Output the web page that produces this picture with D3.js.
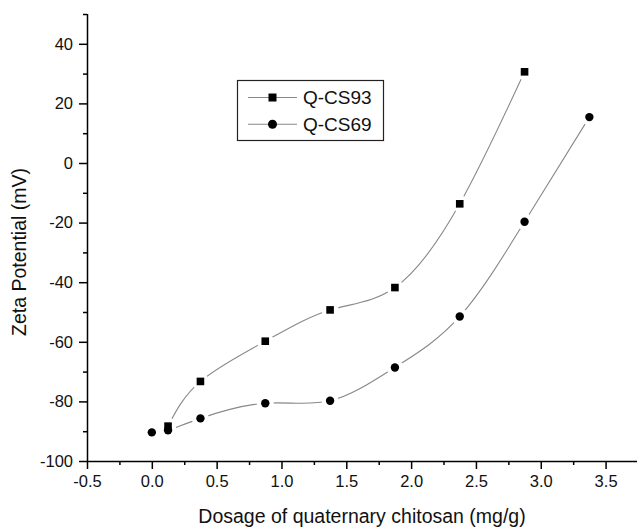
<!DOCTYPE html>
<html>
<head>
<meta charset="utf-8">
<script src="https://cdn.jsdelivr.net/npm/d3@7"></script>
<style>
  body { margin: 0; background: #fff; }
  svg { font-family: "Liberation Sans", Arial, sans-serif; }
</style>
</head>
<body>
<svg id="chart" width="637" height="528"></svg>
<script>
// data
const xs93 = [0.125, 0.375, 0.875, 1.375, 1.875, 2.375, 2.875]
const ys93 = [-88.3, -73.3, -59.8, -49.3, -41.8, -13.7, 30.6]
const xs69 = [0, 0.125, 0.375, 0.875, 1.375, 1.875, 2.375, 2.875, 3.375]
const ys69 = [-90.4, -89.7, -85.7, -80.6, -79.8, -68.6, -51.5, -19.7, 15.4]
const seriesNames = ["Q-CS93", "Q-CS69"]
const xTicks = [-0.5, 0, 0.5, 1, 1.5, 2, 2.5, 3, 3.5]
const yTicks = [-100, -80, -60, -40, -20, 0, 20, 40]

const svg = d3.select("#chart")
const margin = {top: 14, left: 87, right: -1, bottom: 67}
const width = 637, height = 528

const x = d3.scaleLinear().domain([-0.5, 3.75]).range([margin.left, width - margin.right])
const y = d3.scaleLinear().domain([-100, 50]).range([height - margin.bottom, margin.top])

// minor ticks first, then major ticks + labels
const xMinor = d3.range(-0.25, 3.75, 0.5)
const yMinor = d3.range(-90, 51, 20)

svg.append("g")
    .attr("transform", `translate(0,${y(-100)})`)
    .call(d3.axisBottom(x).tickValues(xMinor).tickSize(4).tickFormat(""))
    .call(g => g.select(".domain").remove())
svg.append("g")
    .attr("transform", `translate(${x(-0.5)},0)`)
    .call(d3.axisLeft(y).tickValues(yMinor).tickSize(4).tickFormat(""))
    .call(g => g.select(".domain").remove())

// plain hyphen for negatives, like the original
const xAxis = svg.append("g")
    .attr("transform", `translate(0,${y(-100)})`)
    .call(d3.axisBottom(x).tickValues(xTicks).tickSize(8).tickSizeOuter(0).tickPadding(6).tickFormat(d => d.toFixed(1)))
const yAxis = svg.append("g")
    .attr("transform", `translate(${x(-0.5)},0)`)
    .call(d3.axisLeft(y).tickValues(yTicks).tickSize(8).tickSizeOuter(0).tickPadding(6).tickFormat(d => String(d)))

svg.selectAll(".tick line").attr("stroke", "#000").attr("stroke-width", 1.5)
svg.selectAll(".domain").attr("stroke", "#000").attr("stroke-width", 1.5)
svg.selectAll(".tick text").attr("font-size", 16.5).attr("fill", "#111")
    .attr("font-family", "Liberation Sans, Arial, sans-serif")
yAxis.select(".domain").attr("d", `M0.5,${y(-100)}V${y(50)}`)

// axis titles
svg.append("text")
    .attr("transform", `translate(26,252) rotate(-90)`)
    .attr("text-anchor", "middle").attr("font-size", 19.5).attr("fill", "#111")
    .text("Zeta Potential (mV)")
svg.append("text")
    .attr("x", 362).attr("y", 523)
    .attr("text-anchor", "middle").attr("font-size", 19.5).attr("fill", "#111")
    .text("Dosage of quaternary chitosan (mg/g)")

const line = d3.line().x(d => x(d[0])).y(d => y(d[1])).curve(d3.curveNatural)
const pts93 = xs93.map((v, i) => [v, ys93[i]])
const pts69 = xs69.map((v, i) => [v, ys69[i]])

function drawSeries(pts) {
    svg.append("path").datum(pts)
        .attr("d", line)
        .attr("fill", "none").attr("stroke", "#888").attr("stroke-width", 1.1)
    // white gaps round each marker
    svg.append("g").selectAll("circle").data(pts).join("circle")
        .attr("cx", d => x(d[0])).attr("cy", d => y(d[1])).attr("r", 8.5)
        .attr("fill", "#fff")
}
function drawMarkers(pts, shape) {
    const g = svg.append("g")
    if (shape === "square") {
        g.selectAll("rect").data(pts).join("rect")
            .attr("x", d => x(d[0]) - 3.8).attr("y", d => y(d[1]) - 3.8)
            .attr("width", 7.6).attr("height", 7.6).attr("fill", "#000")
    } else {
        g.selectAll("circle").data(pts).join("circle")
            .attr("cx", d => x(d[0])).attr("cy", d => y(d[1])).attr("r", 4.2)
            .attr("fill", "#000")
    }
}
drawSeries(pts93)
drawSeries(pts69)
drawMarkers(pts69, "circle")
drawMarkers(pts93, "square")

// legend
const leg = svg.append("g")
leg.append("rect").attr("x", 237.5).attr("y", 80.5).attr("width", 146).attr("height", 60)
    .attr("fill", "#fff").attr("stroke", "#222").attr("stroke-width", 1.2)
seriesNames.forEach((name, i) => {
    const cy = 97.5 + i * 26.8
    leg.append("line").attr("x1", 248).attr("x2", 297).attr("y1", cy).attr("y2", cy)
        .attr("stroke", "#888").attr("stroke-width", 1.1)
    if (i === 0) {
        leg.append("rect").attr("x", 272.5 - 4).attr("y", cy - 4).attr("width", 8).attr("height", 8).attr("fill", "#000")
    } else {
        leg.append("circle").attr("cx", 272.5).attr("cy", cy).attr("r", 4.5).attr("fill", "#000")
    }
    leg.append("text").attr("x", 303).attr("y", cy + 6.8).attr("font-size", 19).attr("fill", "#111").text(name)
})
</script>
</body>
</html>
